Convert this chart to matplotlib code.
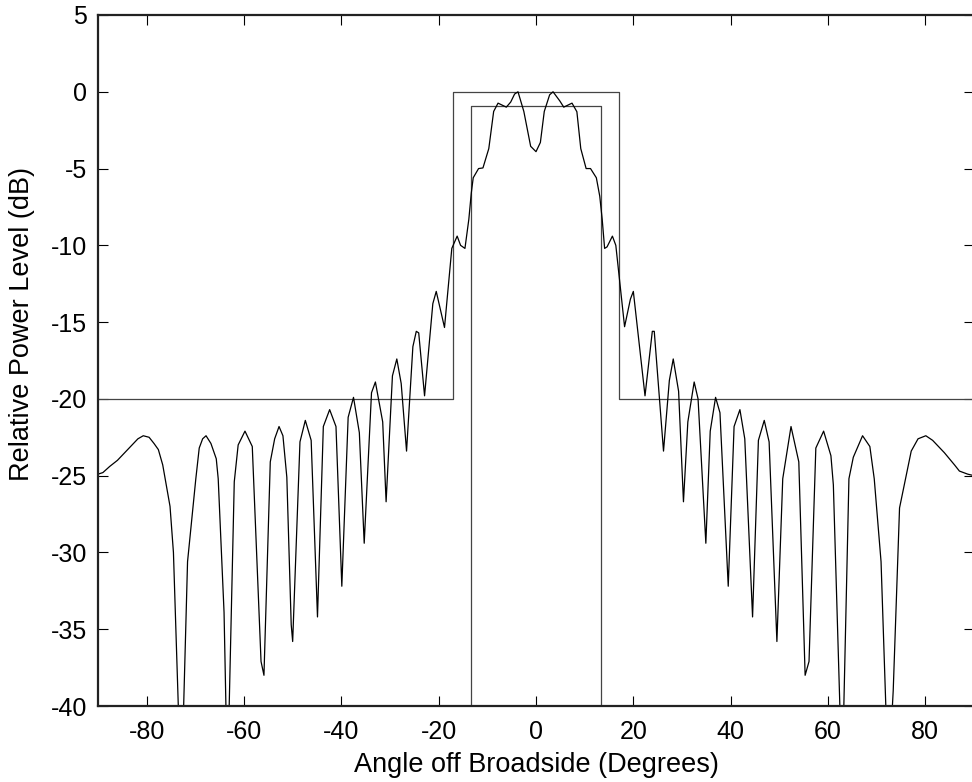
import numpy as np
import matplotlib
matplotlib.use("Agg")
import matplotlib.pyplot as plt

plt.rcParams["font.family"] = ["Liberation Sans", "DejaVu Sans"]
plt.rcParams["axes.unicode_minus"] = False

# ── Data ──────────────────────────────────────────────────────────────────────
angle = [
    -90.0, -89.0, -87.6, -86.0, -84.8, -83.0, -81.8, -80.7, -79.5, -78.5,
    -77.6, -76.7, -75.2, -74.5, -73.7, -73.0, -72.4, -71.6, -69.9, -69.2,
    -68.5, -67.8, -66.8, -65.7, -65.3, -64.1, -63.4, -62.0, -61.2, -59.8,
    -58.3, -56.5, -55.9, -54.6, -53.7, -52.8, -52.0, -51.2, -50.3, -50.0,
    -48.5, -47.4, -46.2, -44.9, -43.7, -42.4, -41.1, -39.9, -38.6, -37.5,
    -36.3, -35.3, -33.8, -33.0, -31.5, -30.8, -29.5, -28.6, -27.7, -26.6,
    -25.3, -24.6, -24.1, -22.9, -21.2, -20.5, -18.8, -17.3, -16.2, -15.5,
    -14.6, -13.8, -13.3, -12.9, -11.8, -10.9, -9.7, -8.7, -7.8, -6.1,
    -5.2, -4.4, -3.7, -2.5, -1.1, 0.0,
    0.9, 1.7, 2.8, 3.5, 4.9, 5.7, 7.4, 8.4, 9.2, 10.3,
    11.2, 12.4, 13.1, 13.6, 14.1, 14.6, 15.7, 16.4, 18.2, 19.4,
    20.0, 22.4, 23.9, 24.3, 26.2, 27.4, 28.2, 29.3, 30.3, 31.2,
    32.5, 33.3, 34.9, 35.8, 36.9, 37.8, 39.5, 40.7, 41.9, 42.9,
    44.5, 45.7, 46.9, 47.9, 49.5, 50.7, 52.4, 54.0, 55.3, 56.1,
    57.5, 59.1, 60.6, 61.1, 62.9, 64.3, 65.2, 67.1, 68.6, 69.5,
    70.9, 72.4, 73.4, 74.7, 77.1, 78.5, 80.1, 81.5, 83.9, 86.0,
    87.0, 88.7, 90.0,
]
power_db = [
    -24.9, -24.8, -24.4, -24.0, -23.6, -23.0, -22.6, -22.4, -22.5, -22.9,
    -23.3, -24.3, -27.0, -30.0, -37.9, -45.0, -40.0, -30.6, -25.2, -23.2,
    -22.6, -22.4, -22.9, -23.9, -25.2, -33.9, -45.0, -25.4, -23.0, -22.1,
    -23.1, -37.1, -38.0, -24.1, -22.6, -21.8, -22.4, -25.1, -34.7, -35.8,
    -22.8, -21.4, -22.7, -34.2, -21.8, -20.7, -21.8, -32.2, -21.2, -19.9,
    -22.2, -29.4, -19.6, -18.9, -21.5, -26.7, -18.5, -17.4, -19.0, -23.4,
    -16.6, -15.6, -15.7, -19.8, -13.8, -13.0, -15.35, -10.2, -9.4, -10.0,
    -10.2, -8.3, -6.6, -5.6, -5.0, -4.96, -3.7, -1.28, -0.74, -1.0,
    -0.67, -0.15, 0.0, -1.28, -3.55, -3.9,
    -3.3, -1.28, -0.2, 0.0, -0.6, -1.0, -0.74, -1.3, -3.7, -5.0,
    -5.0, -5.6, -6.8, -8.3, -10.2, -10.1, -9.4, -10.0, -15.3, -13.5,
    -13.0, -19.8, -15.6, -15.6, -23.4, -18.8, -17.4, -19.5, -26.7, -21.5,
    -18.9, -20.0, -29.4, -22.1, -19.9, -20.9, -32.2, -21.8, -20.7, -22.6,
    -34.2, -22.7, -21.4, -22.8, -35.8, -25.2, -21.8, -24.1, -38.0, -37.1,
    -23.2, -22.1, -23.7, -25.6, -45.0, -25.2, -23.8, -22.4, -23.1, -25.2,
    -30.6, -45.0, -39.0, -27.1, -23.4, -22.6, -22.4, -22.7, -23.5, -24.3,
    -24.7, -24.9, -25.0,
]

# upper mask (sidelobe limit / main beam ceiling)
upper_x = [-90, -17, -17, 17, 17, 90]
upper_y = [-20, -20, 0, 0, -20, -20]
# lower mask (main beam floor)
lower_x = [-13.3, -13.3, 13.3, 13.3]
lower_y = [-60, -0.9, -0.9, -60]

# ── Plot ──────────────────────────────────────────────────────────────────────
fig = plt.figure(figsize=(9.72, 7.82), dpi=100)
ax = fig.add_axes([98 / 972, 76 / 782, 876 / 972, 691 / 782])

ax.plot(upper_x, upper_y, color="#444444", lw=0.9)
ax.plot(lower_x, lower_y, color="#444444", lw=0.9)
ax.plot(angle, power_db, color="black", lw=0.9)

ax.set_xlim(-90, 90)
ax.set_ylim(-40, 5)
ax.set_xticks(np.arange(-80, 81, 20))
ax.set_yticks(np.arange(-40, 6, 5))
ax.tick_params(direction="in", top=True, right=True, length=7, width=0.8,
               labelsize=18)
ax.tick_params(axis="x", pad=10)
ax.tick_params(axis="y", pad=8)
for spine in ax.spines.values():
    spine.set_linewidth(1.6)
    spine.set_edgecolor("#222222")

ax.set_xlabel("Angle off Broadside (Degrees)", fontsize=19.5, labelpad=6)
ax.set_ylabel("Relative Power Level (dB)", fontsize=19.5)
ax.yaxis.set_label_coords(-0.072, 0.553)

fig.savefig("out.png", dpi=100, facecolor="white")
